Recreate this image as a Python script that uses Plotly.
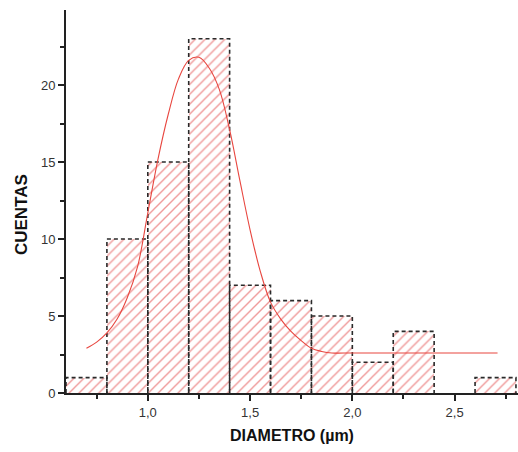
import plotly.graph_objects as go

# Histogram data (bin edges width 0.2)
bin_left = [0.6, 0.8, 1.0, 1.2, 1.4, 1.6, 1.8, 2.0, 2.2, 2.4, 2.6]
counts = [1, 10, 15, 23, 7, 6, 5, 2, 4, 0, 1]
bin_width = 0.2

# Fitted curve
fit_x = [0.70, 0.75, 0.80, 0.85, 0.90, 0.95, 1.00, 1.05, 1.10, 1.15, 1.20, 1.25,
         1.30, 1.35, 1.40, 1.45, 1.50, 1.55, 1.60, 1.65, 1.70, 1.75, 1.80, 1.85,
         1.90, 2.00, 2.20, 2.50, 2.71]
fit_y = [2.9, 3.3, 3.9, 4.8, 6.2, 8.2, 11.7, 15.2, 18.1, 20.4, 21.6, 21.8,
         21.1, 19.7, 17.1, 13.8, 10.6, 7.9, 5.9, 4.8, 4.0, 3.4, 2.9, 2.7,
         2.6, 2.6, 2.6, 2.6, 2.6]

x_ticks = [1.0, 1.5, 2.0, 2.5]
y_ticks = [0, 5, 10, 15, 20]

centers = [b + bin_width / 2 for b in bin_left]

fig = go.Figure()
fig.add_trace(go.Bar(
    x=centers, y=counts, width=bin_width,
    marker=dict(color="white",
                line=dict(width=0),
                pattern=dict(shape="/", fgcolor="#e03232", bgcolor="white",
                             size=7, solidity=0.2)),
    showlegend=False, hoverinfo="skip"))

# dashed outlines computed from bins
ox, oy = [], []
for b, c in zip(bin_left, counts):
    if c <= 0:
        continue
    ox += [b, b, b + bin_width, b + bin_width, None]
    oy += [0, c, c, 0, None]
fig.add_trace(go.Scatter(x=ox, y=oy, mode="lines",
                         line=dict(color="#2a2a2a", width=1.6, dash="4px,3px"),
                         showlegend=False, hoverinfo="skip"))

fig.add_trace(go.Scatter(x=fit_x, y=fit_y, mode="lines", line_shape="spline",
                         line=dict(color="#e8463f", width=1.1),
                         showlegend=False, hoverinfo="skip"))

font = "Arial, Liberation Sans, sans-serif"
fig.update_layout(
    width=518, height=452,
    margin=dict(l=66, r=0, t=10, b=59),
    paper_bgcolor="white", plot_bgcolor="white",
    separators=",.",
    bargap=0,
    font=dict(family=font, size=13, color="#222"),
    xaxis=dict(range=[0.6, 2.81], tickvals=x_ticks, tickformat=".1f",
               showgrid=False, zeroline=False, showline=True, linecolor="#222",
               linewidth=2, ticks="outside", ticklen=6, tickwidth=2, tickcolor="#222",
               minor=dict(dtick=0.25, tick0=0.75, ticks="outside", ticklen=4,
                          tickwidth=1.5, tickcolor="#222", showgrid=False),
               title=dict(text="<b>DIAMETRO (µm)</b>", font=dict(size=16, color="#111"),
                          standoff=11),
               automargin=False, tickfont=dict(size=13, color="#333")),
    yaxis=dict(range=[0, 24.87], tickvals=y_ticks,
               showgrid=False, zeroline=False, showline=True, linecolor="#222",
               linewidth=2, ticks="outside", ticklen=6, tickwidth=2, tickcolor="#222",
               minor=dict(dtick=2.5, tick0=2.5, ticks="outside", ticklen=4,
                          tickwidth=1.5, tickcolor="#222", showgrid=False),
               automargin=False, tickfont=dict(size=13, color="#333")),
    annotations=[dict(text="<b>CUENTAS</b>", textangle=-90, showarrow=False,
                      xref="paper", yref="paper", x=-0.097, y=0.465,
                      xanchor="center", yanchor="middle",
                      font=dict(size=17, color="#111"))],
)

fig.write_html("out.html",
               config={"displayModeBar": False},
               post_script="document.body.style.margin='0';"
                           "document.body.style.overflow='hidden';")
